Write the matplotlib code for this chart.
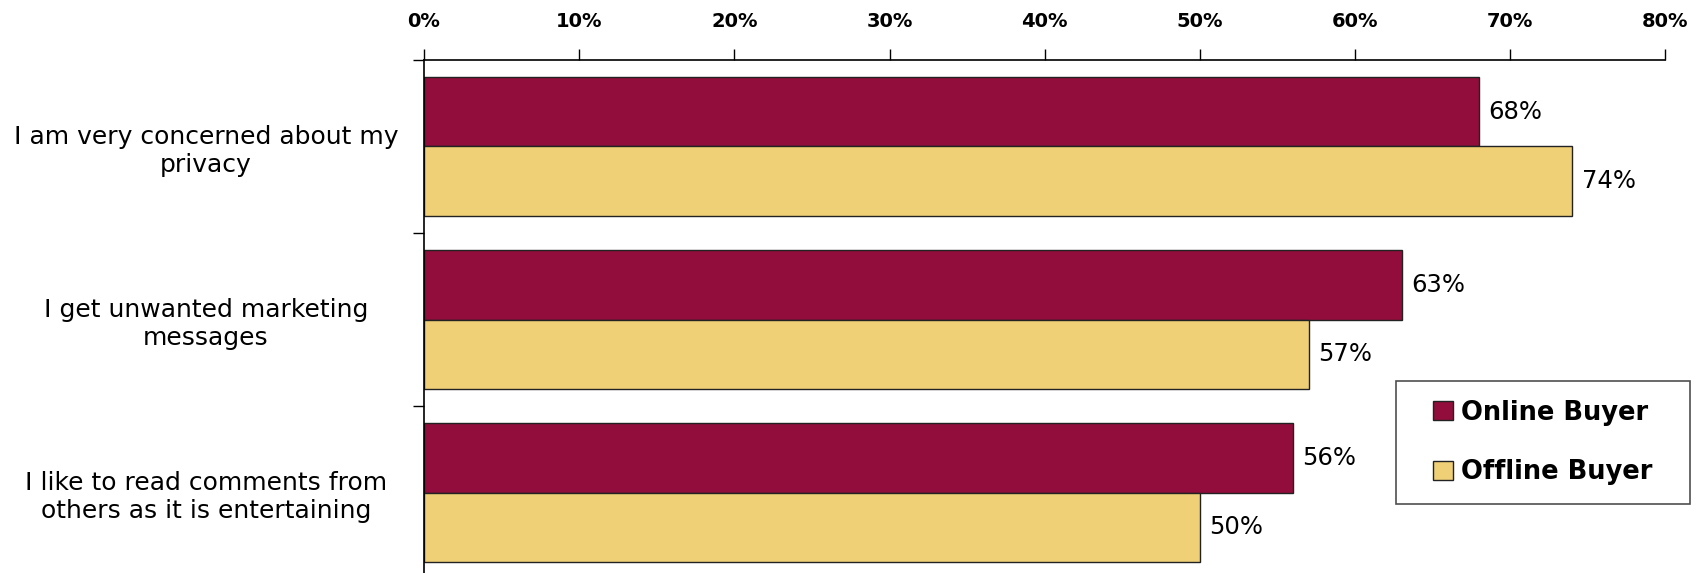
import matplotlib
matplotlib.use("Agg")
from matplotlib import pyplot as plt
from matplotlib.legend_handler import HandlerPatch, update_from_first_child
from matplotlib.container import BarContainer
import numpy as np

categories = ["I am very concerned about my\nprivacy",
              "I get unwanted marketing\nmessages",
              "I like to read comments from\nothers as it is entertaining"]
online = [68, 63, 56]
offline = [74, 57, 50]
series_names = ["Online Buyer", "Offline Buyer"]

plt.rcParams['font.family'] = ['DejaVu Sans']

fig = plt.figure(figsize=(16.96, 5.73), dpi=100)
ax = fig.add_axes([0.25, -0.0105, 0.732, 0.9058])

pos = np.arange(len(categories))
h = 0.4
b1 = ax.barh(pos + 0.3, online, height=h, color="#930D3C", edgecolor="#222222", linewidth=1, label=series_names[0])
b2 = ax.barh(pos + 0.7, offline, height=h, color="#F0D077", edgecolor="#222222", linewidth=1, label=series_names[1])

for bars, vals in ((b1, online), (b2, offline)):
    for bar, v in zip(bars, vals):
        ax.text(v + 0.6, bar.get_y() + bar.get_height() / 2, str(v) + "%",
                va="center", ha="left", fontsize=17.5)

ax.set_xlim(0, 80)
ax.set_ylim(3, 0)
ax.xaxis.tick_top()
ax.set_xticks(range(0, 81, 10))
ax.set_xticklabels([str(t) + "%" for t in range(0, 81, 10)], fontsize=14, fontweight="bold")
ax.tick_params(axis="x", direction="out", length=8, width=1, pad=13)

ax.set_yticks([0, 1, 2, 3])
ax.set_yticklabels([])
ax.set_yticks(pos + 0.5, minor=True)
ax.set_yticklabels(categories, minor=True, fontsize=18, ha="center", linespacing=1.2)
ax.tick_params(axis="y", which="major", direction="out", length=8, width=1)
ax.tick_params(axis="y", which="minor", length=0, pad=157)

ax.spines["right"].set_visible(False)
ax.spines["bottom"].set_visible(False)
ax.spines["top"].set_linewidth(1.2)
ax.spines["left"].set_linewidth(1.2)

# legend box: x 1396..1690, y 381..504 px of the figure
leg = ax.legend(loc="upper left",
                bbox_to_anchor=(1396 / 1696, 1 - 504 / 573, 294 / 1696, 123 / 573),
                bbox_transform=fig.transFigure, mode="expand",
                prop={"weight": "bold", "size": 18.5}, frameon=True, fancybox=False,
                edgecolor="#222222", handlelength=1.5, handleheight=0.78, handletextpad=0.3,
                labelspacing=1.32, borderpad=0.72, borderaxespad=0,
                handler_map={BarContainer: HandlerPatch(xpad=0.72, update_func=update_from_first_child)})
leg.get_frame().set_linewidth(1.2)

fig.savefig("out.png", dpi=100)
